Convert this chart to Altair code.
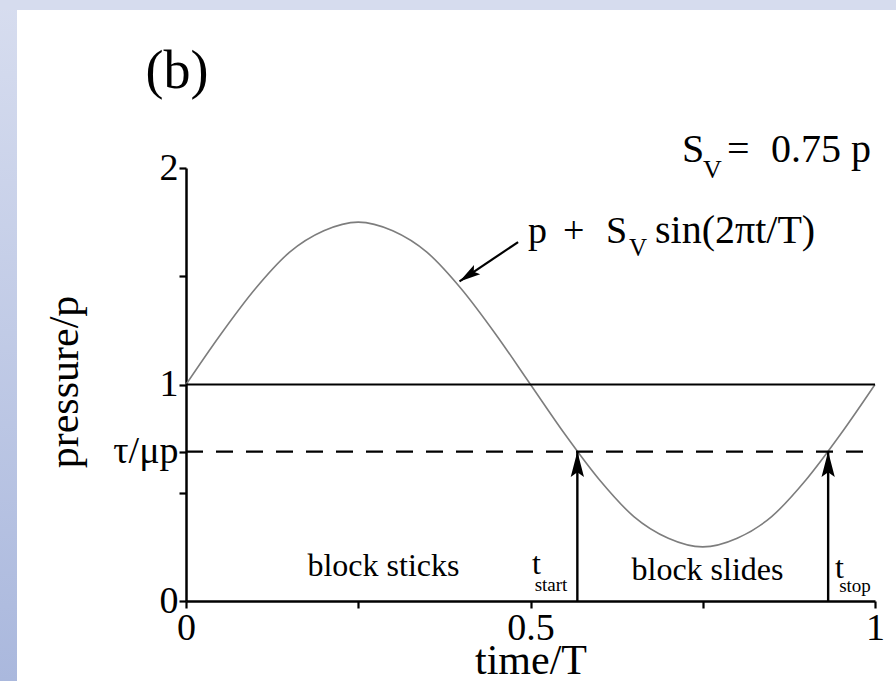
import altair as alt
import pandas as pd

# time/T samples and pressure/p along the driven pressure curve p + Sv sin(2*pi*t/T)
t_vals = [0.00, 0.05, 0.10, 0.15, 0.20, 0.25, 0.30, 0.35, 0.40, 0.45, 0.50,
          0.55, 0.60, 0.65, 0.70, 0.75, 0.80, 0.85, 0.90, 0.95, 1.00]
p_vals = [1.00, 1.23, 1.44, 1.61, 1.71, 1.75, 1.71, 1.61, 1.44, 1.23, 1.00,
          0.77, 0.56, 0.39, 0.29, 0.25, 0.29, 0.39, 0.56, 0.77, 1.00]
mean_level = 1.0          # p
threshold = 0.69          # tau / (mu p)
t_start = 0.568
t_stop = 0.932

x_ticks = [0, 0.25, 0.5, 0.75, 1]
y_ticks = [0, 0.5, threshold, 1, 1.5, 2]
x_tick_labels = {0: "0", 0.5: "0.5", 1: "1"}
y_tick_labels = {0: "0", threshold: "τ/μp", 1: "1", 2: "2"}

SERIF = "Liberation Serif, Times New Roman, DejaVu Serif, serif"
W, H = 689, 433

xs = alt.Scale(domain=[0, 1], nice=False, zero=False)
ys = alt.Scale(domain=[0, 2], nice=False, zero=False)


def expr_from(mapping):
    parts = "".join(f"datum.value == {k} ? '{v}' : " for k, v in mapping.items())
    return parts + "''"


curve_df = pd.DataFrame({"t": t_vals, "p": p_vals})

curve = alt.Chart(curve_df).mark_line(
    color="#7d7d7d", strokeWidth=1.6, interpolate="monotone"
).encode(
    x=alt.X("t:Q", scale=xs, axis=alt.Axis(
        values=x_ticks, labelExpr=expr_from(x_tick_labels), title="time/T",
        titleX=W / 2, titleY=72, titleBaseline="alphabetic", titleAlign="center",
    )),
    y=alt.Y("p:Q", scale=ys, axis=alt.Axis(
        values=y_ticks, labelExpr=expr_from(y_tick_labels), title="pressure/p",
        titleX=-109, titleY=H / 2 - 3, titleAngle=270,
        titleBaseline="alphabetic", titleAlign="center",
    )),
)

levels_df = pd.DataFrame({"t0": [0.0], "t1": [1.0], "mean": [mean_level], "thr": [threshold]})

mean_line = alt.Chart(levels_df).mark_rule(color="black", strokeWidth=2).encode(
    x=alt.X("t0:Q", scale=xs), x2="t1:Q",
    y=alt.Y("mean:Q", scale=ys),
)
thr_line = alt.Chart(levels_df).mark_rule(
    color="black", strokeWidth=2.4, strokeDash=[17, 13]
).encode(
    x=alt.X("t0:Q", scale=xs), x2="t1:Q",
    y=alt.Y("thr:Q", scale=ys),
)

# vertical arrows marking when the block starts and stops sliding
arrows_df = pd.DataFrame({"t": [t_start, t_stop], "lo": [0.0, 0.0], "hi": [threshold, threshold]})
ARROW = "M0,0 L0.42,1.6 L0,1.3 L-0.42,1.6 Z"

arrow_shafts = alt.Chart(arrows_df).mark_rule(color="black", strokeWidth=2.4).encode(
    x=alt.X("t:Q", scale=xs),
    y=alt.Y("lo:Q", scale=ys), y2="hi:Q",
)
arrow_heads = alt.Chart(arrows_df).mark_point(
    shape=ARROW, size=1000, filled=True, color="black", opacity=1, strokeWidth=0
).encode(
    x=alt.X("t:Q", scale=xs),
    y=alt.Y("hi:Q", scale=ys),
)

# pointer from the formula to the curve
pointer_df = pd.DataFrame({"t": [0.482], "v": [1.658], "t2": [0.397], "v2": [1.476]})
pointer_shaft = alt.Chart(pointer_df).mark_rule(color="black", strokeWidth=2.2).encode(
    x=alt.X("t:Q", scale=xs), x2="t2:Q",
    y=alt.Y("v:Q", scale=ys), y2="v2:Q",
)
pointer_head = alt.Chart(pointer_df).mark_point(
    shape=ARROW, size=700, filled=True, color="black", opacity=1, strokeWidth=0, angle=236
).encode(
    x=alt.X("t2:Q", scale=xs),
    y=alt.Y("v2:Q", scale=ys),
)


def label(text, t, v, size, align="left"):
    df = pd.DataFrame({"t": [t], "v": [v], "s": [text]})
    return alt.Chart(df).mark_text(
        font=SERIF, fontSize=size, align=align, baseline="alphabetic", color="black"
    ).encode(
        x=alt.X("t:Q", scale=xs),
        y=alt.Y("v:Q", scale=ys),
        text="s:N",
    )


texts = [
    label("(b)", -0.013, 2.37, 54, "center"),
    label("S", 0.7199, 2.03, 40),
    label("V", 0.7504, 1.955, 26),
    label("=", 0.7852, 2.03, 40),
    label("0.75 p", 0.9942, 2.03, 40, "right"),
    label("p", 0.4964, 1.654, 38),
    label("+", 0.5472, 1.654, 38),
    label("S", 0.6096, 1.654, 38),
    label("V", 0.6430, 1.594, 25),
    label("sin(2πt/T)", 0.6807, 1.654, 40),
    label("block sticks", 0.2866, 0.115, 32, "center"),
    label("t", 0.5022, 0.125, 32),
    label("start", 0.506, 0.047, 19),
    label("block slides", 0.7569, 0.097, 32, "center"),
    label("t", 0.9419, 0.105, 32),
    label("stop", 0.9480, 0.040, 19),
]

# light blue page edge along the left and top
edge_df = pd.DataFrame({"k": [0]})
edge_grad = alt.LinearGradient(
    gradient="linear",
    stops=[alt.GradientStop(color="#d7ddef", offset=0),
           alt.GradientStop(color="#aab8dd", offset=1)],
    x1=0, x2=0, y1=0, y2=1,
)
left_edge = alt.Chart(edge_df).mark_rect(color=edge_grad).encode(
    x=alt.value(-186), x2=alt.value(-169), y=alt.value(-168), y2=alt.value(H + 80)
)
top_edge = alt.Chart(edge_df).mark_rect(color="#d6dcee").encode(
    x=alt.value(-186), x2=alt.value(W + 21), y=alt.value(-168), y2=alt.value(-158)
)

chart = alt.layer(
    curve, left_edge, top_edge,
    mean_line, thr_line,
    arrow_shafts, arrow_heads, pointer_shaft, pointer_head,
    *texts,
).properties(
    width=W, height=H,
    autosize=alt.AutoSizeParams(type="none"),
    padding={"left": 186, "top": 168, "right": 21, "bottom": 80},
    background="white",
).configure_view(
    stroke=None
).configure_axis(
    domainColor="black", domainWidth=2.5,
    tickColor="black", tickWidth=2.2, tickSize=7,
    labelFont=SERIF, labelFontSize=38, labelColor="black", labelPadding=1,
    labelFlush=False, labelOverlap=False,
    titleFont=SERIF, titleFontSize=42, titleFontWeight="normal", titleColor="black",
    grid=False,
).configure_axisY(
    labelBaseline="middle",
)

chart.save("out.html", embed_options={"renderer": "svg", "actions": False})
